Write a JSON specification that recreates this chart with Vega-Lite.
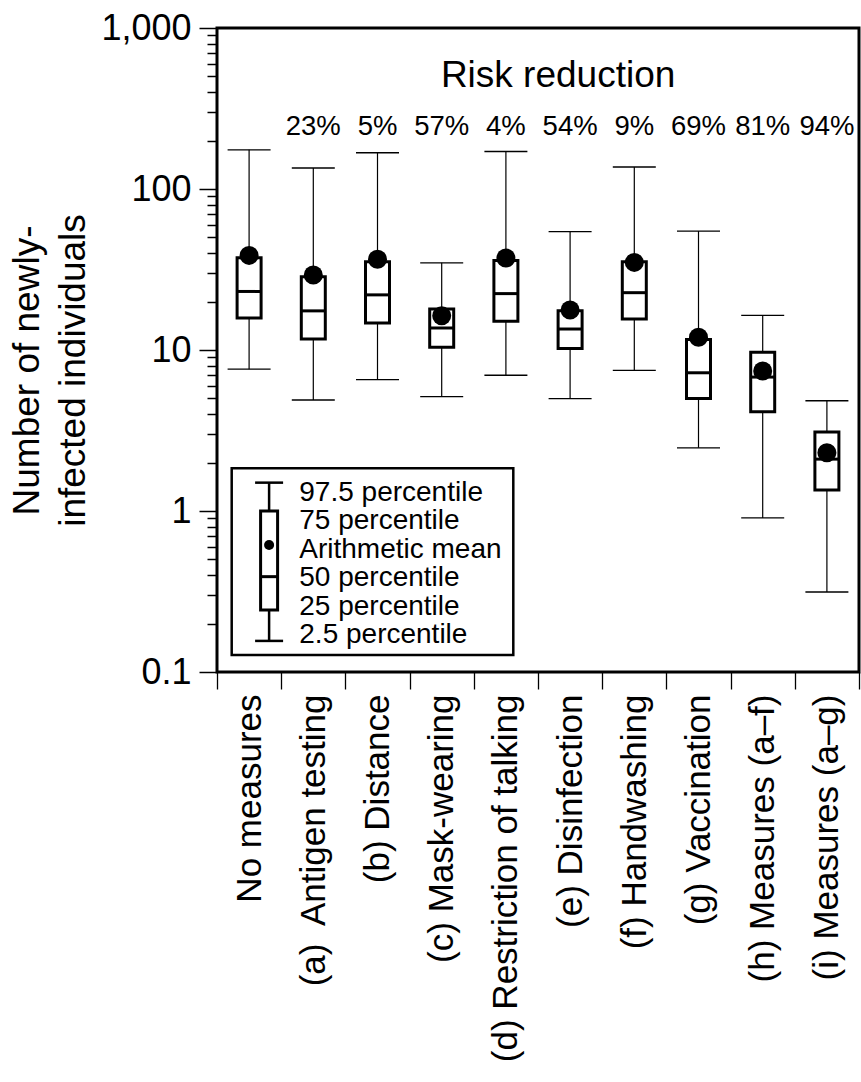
{
  "$schema": "https://vega.github.io/schema/vega-lite/v6.json",
  "width": 642,
  "height": 644,
  "autosize": {"type": "none"},
  "padding": {"left": 217, "top": 28, "right": 2, "bottom": 410},
  "background": "white",
  "config": {
    "font": "Liberation Sans",
    "view": {"stroke": "black", "strokeWidth": 3},
    "axis": {"domain": false, "grid": false, "labelColor": "black", "tickColor": "black", "titleColor": "black"}
  },
  "datasets": {
    "boxes": [
      {"measure": "No measures", "lo": 7.6, "q25": 15.8, "med": 23.1, "q75": 37.4, "hi": 175, "mean": 38.7, "reduction": ""},
      {"measure": "(a)\u00a0 Antigen testing", "lo": 4.89, "q25": 11.7, "med": 17.5, "q75": 28.5, "hi": 135, "mean": 29.2, "reduction": "23%"},
      {"measure": "(b) Distance", "lo": 6.55, "q25": 14.7, "med": 22.0, "q75": 35.3, "hi": 168, "mean": 36.6, "reduction": "5%"},
      {"measure": "(c) Mask-wearing", "lo": 5.13, "q25": 10.4, "med": 13.7, "q75": 18.0, "hi": 34.8, "mean": 16.3, "reduction": "57%"},
      {"measure": "(d) Restriction of talking", "lo": 6.97, "q25": 15.1, "med": 22.4, "q75": 36.0, "hi": 171, "mean": 37.3, "reduction": "4%"},
      {"measure": "(e) Disinfection", "lo": 4.99, "q25": 10.2, "med": 13.5, "q75": 17.5, "hi": 54.3, "mean": 17.7, "reduction": "54%"},
      {"measure": "(f) Handwashing", "lo": 7.48, "q25": 15.6, "med": 22.7, "q75": 35.3, "hi": 137, "mean": 35.0, "reduction": "9%"},
      {"measure": "(g) Vaccination", "lo": 2.47, "q25": 4.99, "med": 7.22, "q75": 11.6, "hi": 54.8, "mean": 12.0, "reduction": "69%"},
      {"measure": "(h) Measures (a\u2013f)", "lo": 0.906, "q25": 4.14, "med": 6.79, "q75": 9.68, "hi": 16.4, "mean": 7.41, "reduction": "81%"},
      {"measure": "(i) Measures (a\u2013g)", "lo": 0.314, "q25": 1.35, "med": 2.10, "q75": 3.10, "hi": 4.84, "mean": 2.30, "reduction": "94%"}
    ]
  },
  "layer": [
    {
      "data": {"name": "boxes"},
      "mark": {"type": "rule", "color": "black", "strokeWidth": 1.2},
      "encoding": {
        "x": {
          "field": "measure", "type": "nominal", "sort": null,
          "scale": {
            "domain": ["No measures", "(a)\u00a0 Antigen testing", "(b) Distance", "(c) Mask-wearing", "(d) Restriction of talking", "(e) Disinfection", "(f) Handwashing", "(g) Vaccination", "(h) Measures (a\u2013f)", "(i) Measures (a\u2013g)"],
            "paddingInner": 0, "paddingOuter": 0
          },
          "axis": {
            "title": null, "labelAngle": -90, "labelFontSize": 35, "labelLimit": 800,
            "tickBand": "extent", "tickSize": 17, "tickWidth": 1.3, "labelPadding": 5, "domain": false
          }
        },
        "y": {
          "field": "lo", "type": "quantitative",
          "scale": {"type": "log", "domain": [0.1, 1000], "nice": false},
          "axis": {
            "title": ["Number of newly-", "infected individuals"],
            "titleFontSize": 37, "titleFontWeight": "normal", "titleLineHeight": 46, "titlePadding": 8, "titleY": 342,
            "values": [0.1, 0.2, 0.3, 0.4, 0.5, 0.6, 0.7, 0.8, 0.9, 1, 2, 3, 4, 5, 6, 7, 8, 9, 10, 20, 30, 40, 50, 60, 70, 80, 90, 100, 200, 300, 400, 500, 600, 700, 800, 900, 1000],
            "format": ",",
            "labelExpr": "indexof([0.1, 1, 10, 100, 1000], datum.value) >= 0 ? datum.label : ''",
            "labelFontSize": 36, "labelPadding": 8,
            "tickSize": {"condition": {"test": "indexof([0.1, 1, 10, 100, 1000], datum.value) >= 0", "value": 18}, "value": 10},
            "tickWidth": 1.5, "domain": false
          }
        },
        "y2": {"field": "hi"}
      }
    },
    {
      "data": {"name": "boxes"},
      "mark": {"type": "bar", "size": 24, "fill": "white", "stroke": "black", "strokeWidth": 3},
      "encoding": {
        "x": {"field": "measure", "type": "nominal", "sort": null},
        "y": {"field": "q25", "type": "quantitative"},
        "y2": {"field": "q75"}
      }
    },
    {
      "data": {"name": "boxes"},
      "mark": {"type": "tick", "size": 24, "thickness": 3, "color": "black", "opacity": 1},
      "encoding": {
        "x": {"field": "measure", "type": "nominal", "sort": null},
        "y": {"field": "med", "type": "quantitative"}
      }
    },
    {
      "data": {"name": "boxes"},
      "mark": {"type": "tick", "size": 43, "thickness": 1.3, "color": "black", "opacity": 1},
      "encoding": {
        "x": {"field": "measure", "type": "nominal", "sort": null},
        "y": {"field": "lo", "type": "quantitative"}
      }
    },
    {
      "data": {"name": "boxes"},
      "mark": {"type": "tick", "size": 43, "thickness": 1.3, "color": "black", "opacity": 1},
      "encoding": {
        "x": {"field": "measure", "type": "nominal", "sort": null},
        "y": {"field": "hi", "type": "quantitative"}
      }
    },
    {
      "data": {"name": "boxes"},
      "mark": {"type": "point", "shape": "circle", "filled": true, "size": 361, "color": "black", "opacity": 1},
      "encoding": {
        "x": {"field": "measure", "type": "nominal", "sort": null},
        "y": {"field": "mean", "type": "quantitative"}
      }
    },
    {
      "data": {"name": "boxes"},
      "transform": [{"filter": "datum.reduction != ''"}],
      "mark": {"type": "text", "fontSize": 27.5, "baseline": "alphabetic", "align": "center", "color": "black"},
      "encoding": {
        "x": {"field": "measure", "type": "nominal", "sort": null},
        "y": {"datum": 216, "type": "quantitative"},
        "text": {"field": "reduction"}
      }
    },
    {
      "data": {"values": [{}]},
      "mark": {"type": "text", "text": "Risk reduction", "fontSize": 37, "baseline": "alphabetic", "align": "center", "color": "black", "dx": -12},
      "encoding": {
        "x": {"datum": "(e) Disinfection", "type": "nominal"},
        "y": {"datum": 430, "type": "quantitative"}
      }
    },
    {
      "data": {"values": [{}]},
      "mark": {"type": "rect", "fill": "white", "stroke": "black", "strokeWidth": 2.5, "xOffset": -17.4, "x2Offset": 7.4},
      "encoding": {
        "x": {"datum": "No measures", "type": "nominal"},
        "x2": {"datum": "(d) Restriction of talking"},
        "y": {"datum": 0.1276, "type": "quantitative"},
        "y2": {"datum": 1.84}
      }
    },
    {
      "data": {"values": [{}]},
      "mark": {"type": "rule", "color": "black", "strokeWidth": 2.5, "xOffset": 20},
      "encoding": {
        "x": {"datum": "No measures", "type": "nominal"},
        "y": {"datum": 0.156, "type": "quantitative"},
        "y2": {"datum": 1.5}
      }
    },
    {
      "data": {"values": [{}]},
      "mark": {"type": "tick", "size": 28, "thickness": 2.5, "color": "black", "opacity": 1, "xOffset": 20},
      "encoding": {
        "x": {"datum": "No measures", "type": "nominal"},
        "y": {"datum": 0.156, "type": "quantitative"}
      }
    },
    {
      "data": {"values": [{}]},
      "mark": {"type": "tick", "size": 28, "thickness": 2.5, "color": "black", "opacity": 1, "xOffset": 20},
      "encoding": {
        "x": {"datum": "No measures", "type": "nominal"},
        "y": {"datum": 1.5, "type": "quantitative"}
      }
    },
    {
      "data": {"values": [{}]},
      "mark": {"type": "bar", "size": 17, "fill": "white", "stroke": "black", "strokeWidth": 3, "xOffset": 20},
      "encoding": {
        "x": {"datum": "No measures", "type": "nominal"},
        "y": {"datum": 0.243, "type": "quantitative"},
        "y2": {"datum": 1.0}
      }
    },
    {
      "data": {"values": [{}]},
      "mark": {"type": "tick", "size": 17, "thickness": 3, "color": "black", "opacity": 1, "xOffset": 20},
      "encoding": {
        "x": {"datum": "No measures", "type": "nominal"},
        "y": {"datum": 0.391, "type": "quantitative"}
      }
    },
    {
      "data": {"values": [{}]},
      "mark": {"type": "point", "shape": "circle", "filled": true, "size": 100, "color": "black", "opacity": 1, "xOffset": 20},
      "encoding": {
        "x": {"datum": "No measures", "type": "nominal"},
        "y": {"datum": 0.615, "type": "quantitative"}
      }
    },
    {
      "data": {"values": [{}]},
      "mark": {
        "type": "text",
        "text": ["97.5 percentile", "75 percentile", "Arithmetic mean", "50 percentile", "25 percentile", "2.5 percentile"],
        "fontSize": 28, "lineHeight": 28.5, "align": "left", "baseline": "middle", "color": "black", "dx": -14
      },
      "encoding": {
        "x": {"datum": "(a)\u00a0 Antigen testing", "type": "nominal"},
        "y": {"datum": 1.30, "type": "quantitative"}
      }
    }
  ]
}
